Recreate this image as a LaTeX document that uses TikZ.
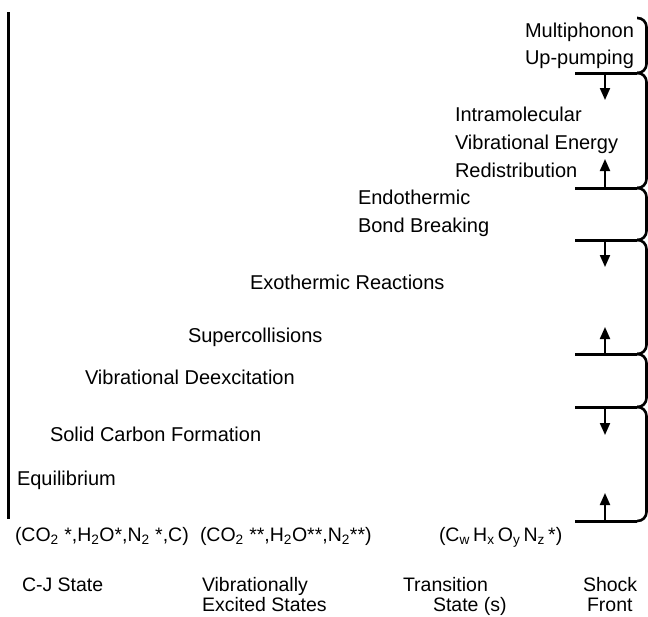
\documentclass[tikz,border=0pt]{standalone}
\usepackage{fontspec}
\setmainfont{Liberation Sans}
\usetikzlibrary{arrows.meta}
\begin{document}
\begin{tikzpicture}[x=1pt,y=-1pt,
  lbl/.style={anchor=base west,inner sep=0pt,outer sep=0pt,font=\fontsize{20}{24}\selectfont},
  blbl/.style={anchor=base west,inner sep=0pt,outer sep=0pt,font=\fontsize{19.5}{22}\selectfont},
  front/.style={line width=3pt},
  axisline/.style={line width=3.3pt},
  bracepath/.style={line width=2.6pt,rounded corners=9pt},
  arr/.style={line width=2pt,-{Triangle[width=10pt,length=12pt]}}
]
\useasboundingbox (0,0) rectangle (648,616);

% left vertical line
\coordinate (vt) at (8.5,12);
\coordinate (vb) at (8.5,519);
\draw[axisline] (vt) -- (vb);

% shock front horizontal lines
\coordinate (h0r) at (637,18);
\foreach \i/\y in {1/73,2/188,3/240,4/354,5/407,6/521}{
  \coordinate (h\i l) at (575,\y);
  \coordinate (h\i r) at (637,\y);
}
\foreach \i in {1,...,6}{
  \draw[front] (h\i l) -- (h\i r);
}

% braces
\draw[bracepath] (h0r) -- ++(9.5,0) |- (h1r);
\draw[bracepath] (h1r) -- ++(9.5,0) |- (h2r);
\draw[bracepath] (h2r) -- ++(9.5,0) |- (h3r);
\draw[bracepath] (h3r) -- ++(9.5,0) |- (h4r);
\draw[bracepath] (h4r) -- ++(9.5,0) |- (h5r);
\draw[bracepath] (h5r) -- ++(9.5,0) |- (h6r);

% arrows
\coordinate (a1s) at (605,73);  \coordinate (a1e) at (605,100);
\coordinate (a2s) at (605,188); \coordinate (a2e) at (605,159);
\coordinate (a3s) at (605,240); \coordinate (a3e) at (605,267);
\coordinate (a4s) at (605,354); \coordinate (a4e) at (605,327);
\coordinate (a5s) at (605,407); \coordinate (a5e) at (605,435);
\coordinate (a6s) at (605,521); \coordinate (a6e) at (605,493);
\foreach \i in {1,...,6}{
  \draw[arr] (a\i s) -- (a\i e);
}

% process labels
\node[lbl] (mp1) at (525,37) {Multiphonon};
\node[lbl] (mp2) at (525,64) {Up-pumping};
\node[lbl] (iv1) at (455,121) {Intramolecular};
\node[lbl] (iv2) at (455,149) {Vibrational Energy};
\node[lbl] (iv3) at (455,177) {Redistribution};
\node[lbl] (eb1) at (358,204) {Endothermic};
\node[lbl] (eb2) at (358,232) {Bond Breaking};
\node[lbl] (ex) at (250,289) {Exothermic Reactions};
\node[lbl] (sc) at (188,342) {Supercollisions};
\node[lbl] (vd) at (85,384) {Vibrational Deexcitation};
\node[lbl] (sf) at (50,441) {Solid Carbon Formation};
\node[lbl] (eq) at (17,485) {Equilibrium};

% species
\node[blbl] (f1) at (15,541) {(CO\textsubscript{2} *,H\textsubscript{2}O*,N\textsubscript{2} *,C)};
\node[blbl] (f2) at (200,541) {(CO\textsubscript{2} **,H\textsubscript{2}O**,N\textsubscript{2}**)};
\node[blbl] (f3) at (439,541) {(C\textsubscript{w}\,H\textsubscript{x}\,O\textsubscript{y}\,N\textsubscript{z}\,*)};

% state labels
\node[blbl] (cj) at (22,591) {C-J State};
\node[blbl] (ve1) at (202,591) {Vibrationally};
\node[blbl] (ve2) at (202,611) {Excited States};
\node[blbl] (ts1) at (403,591) {Transition};
\node[blbl] (ts2) at (433,611) {State (s)};
\node[blbl] (sh1) at (583,591) {Shock};
\node[blbl] (sh2) at (587,611) {Front};
\end{tikzpicture}
\end{document}
